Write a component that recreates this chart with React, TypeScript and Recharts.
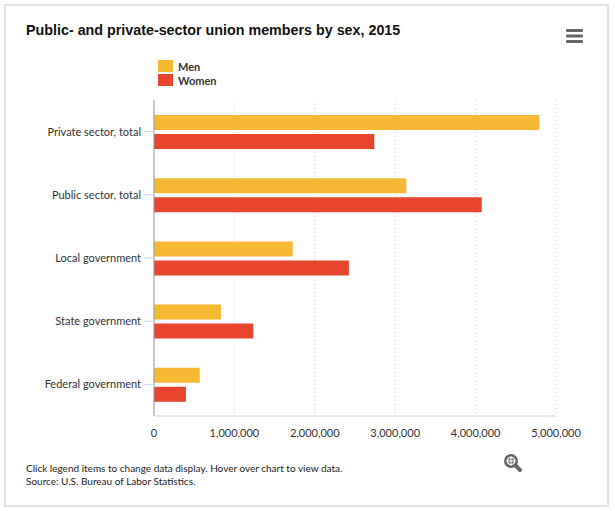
import React from "react";
import { BarChart, Bar, XAxis, YAxis, CartesianGrid, Legend } from "recharts";

const categories = [
  "Private sector, total",
  "Public sector, total",
  "Local government",
  "State government",
  "Federal government",
];
const men = [4794000, 3138000, 1726000, 833000, 569000];
const women = [2740000, 4076000, 2424000, 1234000, 397000];
const xTicks = [0, 1000000, 2000000, 3000000, 4000000, 5000000];

const data = categories.map((name, i) => ({ name, men: men[i], women: women[i] }));

const FONT = "Lato, 'Liberation Sans', sans-serif";

const renderLegend = (props: any) => {
  const { payload } = props;
  return (
    <div>
      {payload.map((p: any) => (
        <div key={p.value} style={{ display: "flex", alignItems: "center", height: 14 }}>
          <span style={{ width: 15, height: 12, background: p.color, marginRight: 5 }} />
          <span style={{ fontFamily: FONT, fontWeight: 700, fontSize: 11, color: "#333" }}>
            {p.value}
          </span>
        </div>
      ))}
    </div>
  );
};

const App = () => {
  return (
    <div style={{ position: "relative", width: 615, height: 511, background: "#fff" }}>
      <style>{`body{margin:0}`}</style>
      <div
        style={{
          position: "absolute",
          left: 4,
          top: 4,
          width: 601,
          height: 499,
          border: "2px solid #e2e2e2",
        }}
      />
      <div
        style={{
          position: "absolute",
          left: 26,
          top: 22,
          fontFamily: "'Liberation Sans', Arial, sans-serif",
          fontWeight: 700,
          fontSize: 14.3,
          color: "#111",
        }}
      >
        Public- and private-sector union members by sex, 2015
      </div>
      <svg style={{ position: "absolute", left: 566, top: 29 }} width={18} height={15}>
        <rect x={0} y={0} width={17} height={3} rx={1} fill="#666" />
        <rect x={0} y={5.5} width={17} height={3} rx={1} fill="#666" />
        <rect x={0} y={11} width={17} height={3} rx={1} fill="#666" />
      </svg>
      <div style={{ position: "absolute", left: 0, top: 0 }}>
        <BarChart
          width={615}
          height={511}
          data={data}
          layout="vertical"
          margin={{ top: 100, right: 59, bottom: 65, left: 24 }}
          barSize={15}
          barGap={4}
        >
          <CartesianGrid horizontal={false} stroke="#cccccc" strokeDasharray="1 3" />
          <XAxis
            type="number"
            domain={[0, 5000000]}
            ticks={xTicks}
            tickFormatter={(v: number) => v.toLocaleString("en-US")}
            axisLine={{ stroke: "#ccd6eb" }}
            tickLine={false}
            tickMargin={7}
            height={30}
            tick={{ fontFamily: FONT, fontSize: 11, fill: "#333" }}
          />
          <YAxis
            type="category"
            dataKey="name"
            width={130}
            axisLine={{ stroke: "#999" }}
            tickLine={{ stroke: "#ccd6eb" }}
            tickSize={10}
            tickMargin={3}
            tick={{ fontFamily: FONT, fontSize: 11, fill: "#333" }}
          />
          <Legend
            layout="vertical"
            verticalAlign="middle"
            align="center"
            content={renderLegend}
            wrapperStyle={{ position: "absolute", left: 158, top: 59, width: 100 }}
          />
          <Bar dataKey="men" name="Men" fill="#f6b933" isAnimationActive={false} />
          <Bar dataKey="women" name="Women" fill="#e8452f" isAnimationActive={false} />
        </BarChart>
      </div>
      <svg style={{ position: "absolute", left: 502, top: 452 }} width={22} height={22}>
        <line x1={12} y1={12} x2={18} y2={18} stroke="#666" strokeWidth={4} strokeLinecap="round" />
        <circle cx={9} cy={9} r={7} fill="#666" />
        <circle cx={9} cy={9} r={3.5} fill="none" stroke="#fff" strokeWidth={1.2} />
        <line x1={9} y1={4} x2={9} y2={14} stroke="#fff" strokeWidth={1} />
        <line x1={4} y1={9} x2={14} y2={9} stroke="#fff" strokeWidth={1} />
      </svg>
      <div
        style={{
          position: "absolute",
          left: 26,
          top: 462,
          fontFamily: FONT,
          fontSize: 10,
          lineHeight: "13px",
          color: "#222",
        }}
      >
        <div>Click legend items to change data display. Hover over chart to view data.</div>
        <div>Source: U.S. Bureau of Labor Statistics.</div>
      </div>
    </div>
  );
};

export default App;
